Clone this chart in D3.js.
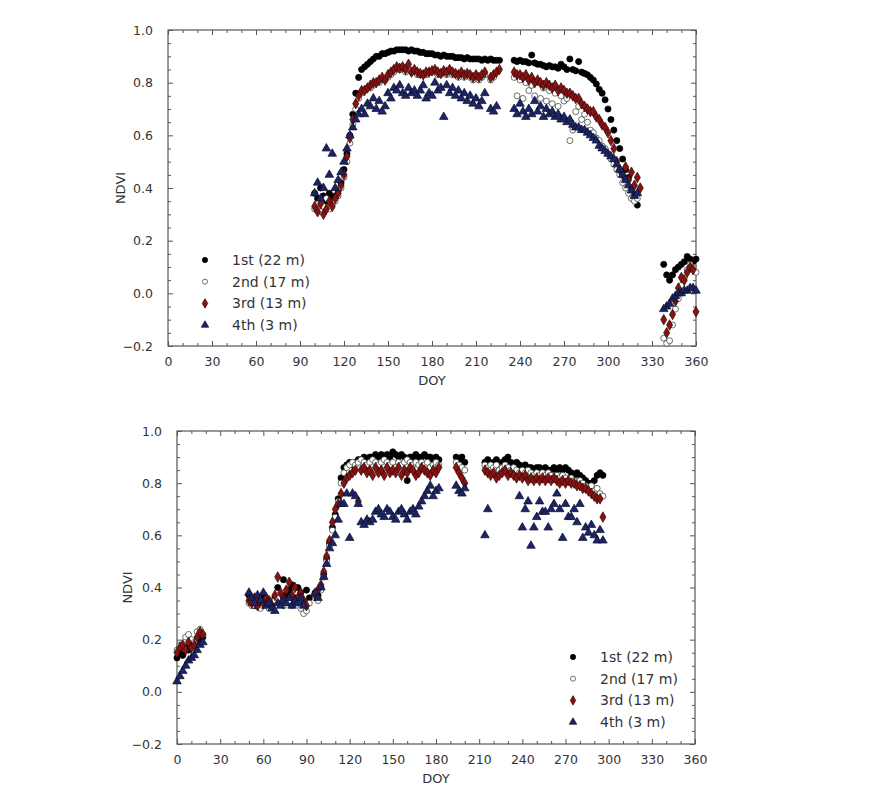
<!DOCTYPE html>
<html>
<head>
<meta charset="utf-8">
<script src="https://cdn.jsdelivr.net/npm/d3@7"></script>
<style>
  body { margin: 0; background: #fff; }
  text { font-family: "DejaVu Sans", sans-serif; fill: #333; }
</style>
</head>
<body>
<div id="chart"></div>
<script>
// ---- tick labels / categories ----
const seriesNames = ["1st (22 m)", "2nd (17 m)", "3rd (13 m)", "4th (3 m)"];
const xTicks = [0, 30, 60, 90, 120, 150, 180, 210, 240, 270, 300, 330, 360];
const yTicks = [-0.2, 0.0, 0.2, 0.4, 0.6, 0.8, 1.0];

// ---- top panel: DOY and NDVI per tower level ----
const topDoy = [
  100,102,104,106,108,110,112,114,116,118,
  120,122,124,126,128,130,132,134,136,138,
  140,142,144,146,148,150,152,154,156,158,
  160,162,164,166,168,170,172,174,176,178,
  180,182,184,186,188,190,192,194,196,198,
  200,202,204,206,208,210,212,214,216,218,
  220,222,224,226,228,
  236,238,240,242,244,246,248,250,252,254,
  256,258,260,262,264,266,268,270,272,274,
  276,278,280,282,284,286,288,290,292,294,
  296,298,300,302,304,306,308,310,312,314,
  316,318,320,322,
  338,340,342,344,346,348,350,352,354,356,358,360
];
const top1st = [
  0.38,0.36,0.40,0.37,0.35,0.38,0.36,0.37,0.39,0.42,
  0.47,0.53,0.60,0.68,0.76,0.82,0.85,0.86,0.87,0.88,
  0.89,0.90,0.90,0.91,0.91,0.915,0.92,0.92,0.925,0.925,
  0.925,0.925,0.92,0.925,0.92,0.92,0.915,0.915,0.91,0.91,
  0.91,0.905,0.905,0.90,0.905,0.90,0.90,0.90,0.895,0.895,
  0.895,0.89,0.895,0.89,0.89,0.89,0.89,0.885,0.89,0.885,
  0.89,0.885,0.885,0.885,null,
  0.885,0.88,0.885,0.88,0.88,0.875,0.905,0.875,0.87,0.87,
  0.865,0.86,0.865,0.86,0.86,0.855,0.87,0.86,0.85,0.89,
  0.85,0.845,0.88,0.84,0.835,0.83,0.82,0.81,0.795,0.775,
  0.76,0.735,0.70,0.66,0.62,0.58,0.55,0.51,0.47,0.44,
  0.40,0.37,0.335,null,
  0.11,0.07,0.05,0.07,0.09,0.10,0.11,0.12,0.14,0.13,0.12,0.13
];
const top2nd = [
  0.32,0.34,0.31,0.33,0.36,0.32,0.34,0.35,0.37,0.40,
  0.44,0.50,0.57,0.64,0.70,0.74,0.76,0.77,0.78,0.78,
  0.79,0.80,0.80,0.81,0.81,0.82,0.83,0.84,0.85,0.85,
  0.85,0.84,0.85,0.84,0.84,0.83,0.83,0.83,0.83,0.84,
  0.84,0.84,0.83,0.83,0.84,0.83,0.84,0.83,0.83,0.82,
  0.83,0.82,0.83,0.82,0.81,0.82,0.81,0.82,0.83,null,
  0.81,0.82,null,null,null,
  0.82,0.75,0.81,0.74,0.80,0.77,0.79,0.75,0.80,0.74,
  0.78,0.73,0.77,0.72,0.76,0.71,0.75,0.73,0.74,0.58,
  0.62,0.69,0.71,0.66,0.68,0.65,0.62,0.61,0.59,0.58,
  0.56,0.55,0.53,0.51,0.49,0.47,0.45,0.42,0.40,0.38,
  0.36,0.35,0.36,null,
  -0.17,-0.19,-0.18,-0.12,-0.06,-0.02,0.03,0.06,0.09,0.11,0.10,0.08
];
const top3rd = [
  0.33,0.31,0.34,0.30,0.32,0.35,0.33,0.36,0.38,0.41,
  0.45,0.52,0.59,0.66,0.72,0.75,0.77,0.77,0.78,0.79,
  0.80,0.80,0.81,0.82,0.81,0.83,0.84,0.85,0.86,0.855,
  0.86,0.85,0.87,0.84,0.85,0.84,0.835,0.83,0.84,0.84,
  0.845,0.85,0.84,0.835,0.845,0.84,0.85,0.84,0.835,0.83,
  0.84,0.83,0.835,0.83,0.82,0.83,0.82,0.83,0.84,null,
  0.82,0.83,0.84,0.85,null,
  0.84,0.83,0.83,0.82,0.83,0.81,0.82,0.80,0.81,0.80,
  0.79,0.80,0.79,0.78,0.79,0.77,0.78,0.77,0.76,0.76,
  0.75,0.74,0.74,0.72,0.71,0.70,0.69,0.69,0.67,0.66,
  0.64,0.63,0.61,0.58,0.55,0.50,0.47,0.45,0.48,0.43,
  0.46,0.41,0.44,0.40,
  -0.10,-0.15,-0.12,-0.08,-0.03,0.02,0.06,0.05,0.08,0.10,0.09,-0.07
];
const top4th = [
  0.38,0.42,0.36,0.40,0.55,0.45,0.53,0.40,0.43,0.46,
  0.50,0.55,0.60,0.63,0.66,0.68,0.70,0.68,0.72,0.71,
  0.74,0.70,0.73,0.69,0.71,0.76,0.74,0.78,0.77,0.79,
  0.76,0.75,0.78,0.76,0.77,0.75,0.77,0.79,0.74,0.76,
  0.75,0.80,0.77,0.78,0.67,0.79,0.76,0.78,0.75,0.77,
  0.74,0.76,0.73,0.75,0.72,0.74,0.71,0.73,0.76,null,
  0.70,0.69,0.71,null,null,
  0.70,0.68,0.72,0.69,0.67,0.70,0.68,0.73,0.69,0.71,
  0.67,0.70,0.68,0.69,0.67,0.68,0.66,0.67,0.65,0.66,
  0.64,0.63,0.63,0.62,0.62,0.61,0.60,0.59,0.58,0.56,
  0.55,0.54,0.53,0.52,0.51,0.49,0.47,0.45,0.43,0.41,
  0.39,0.37,0.38,null,
  -0.06,-0.05,-0.04,-0.02,-0.01,0.00,0.00,0.01,0.01,0.02,0.02,0.01
];

// ---- bottom panel ----
const botDoy = [
  0,2,4,6,8,10,12,14,16,18,
  50,52,54,56,58,60,62,64,66,68,
  70,72,74,76,78,80,82,84,86,88,
  90,92,
  96,98,100,102,104,106,108,110,112,114,
  116,118,120,122,124,126,128,130,132,134,
  136,138,140,142,144,146,148,150,152,154,
  156,158,160,162,164,166,168,170,172,174,
  176,178,180,182,
  194,196,198,200,
  214,216,218,220,222,224,226,228,230,232,
  234,236,238,240,242,244,246,248,250,252,
  254,256,258,260,262,264,266,268,270,272,
  274,276,278,280,282,284,286,288,290,292,
  294,296
];
const bot1st = [
  0.13,0.15,0.14,0.17,0.16,0.19,0.18,0.20,0.19,0.21,
  0.37,0.35,0.33,0.36,0.34,0.36,0.35,0.33,0.34,0.36,
  0.40,0.35,0.43,0.37,0.39,0.41,0.36,0.40,0.38,0.34,
  0.39,0.36,
  0.38,0.37,0.40,0.45,0.51,0.57,0.63,0.68,0.74,0.82,
  0.86,0.87,0.88,0.87,0.88,0.89,0.89,0.90,0.89,0.90,
  0.90,0.91,0.90,0.91,0.90,0.91,0.90,0.92,0.91,0.90,
  0.91,0.90,0.81,0.90,0.90,0.91,0.90,0.90,0.91,0.90,
  0.90,0.89,0.90,0.89,
  0.90,0.89,0.90,0.88,
  0.88,0.89,0.87,0.88,0.89,0.87,0.88,0.89,0.90,0.88,
  0.87,0.88,0.87,0.86,0.87,0.86,0.86,0.85,0.86,0.86,
  0.85,0.86,0.85,0.85,0.86,0.85,0.86,0.85,0.86,0.85,
  0.84,0.83,0.84,0.83,0.82,0.81,0.80,0.80,0.81,0.83,
  0.84,0.83
];
const bot2nd = [
  0.16,0.18,0.17,0.21,0.22,0.20,0.19,0.23,0.24,0.22,
  0.34,0.33,0.35,0.34,0.32,0.33,0.34,0.32,0.33,0.35,
  0.36,0.34,0.33,0.35,0.34,0.33,0.35,0.34,0.32,0.30,
  0.31,0.34,
  0.36,0.35,0.39,0.44,0.50,0.56,0.62,0.67,0.73,0.80,
  0.84,0.86,0.87,0.88,0.87,0.88,0.89,0.88,0.87,0.88,
  0.89,0.88,0.87,0.88,0.89,0.88,0.87,0.88,0.86,0.88,
  0.87,0.88,0.89,0.88,0.87,0.88,0.87,0.88,0.87,0.88,
  0.86,0.87,0.88,0.87,
  0.88,0.87,0.86,0.85,
  0.87,0.86,0.87,0.86,0.87,0.85,0.86,0.87,0.86,0.85,
  0.86,0.85,0.84,0.85,0.84,0.85,0.84,0.83,0.84,0.83,
  0.84,0.83,0.84,0.83,0.82,0.83,0.82,0.83,0.82,0.81,
  0.82,0.81,0.80,0.81,0.80,0.79,0.78,0.79,0.77,0.78,
  0.76,0.75
];
const bot3rd = [
  0.15,0.17,0.18,0.16,0.19,0.17,0.18,0.21,0.23,0.22,
  0.35,0.34,0.36,0.33,0.35,0.34,0.36,0.35,0.33,0.37,
  0.44,0.38,0.36,0.39,0.42,0.37,0.40,0.36,0.38,0.35,
  0.33,null,
  0.37,0.39,0.41,0.46,0.52,0.58,0.65,0.70,0.72,0.76,
  0.80,0.82,0.83,0.84,0.85,0.73,0.85,0.86,0.84,0.85,
  0.83,0.86,0.84,0.85,0.83,0.86,0.84,0.85,0.84,0.86,
  0.83,0.85,0.84,0.86,0.85,0.83,0.84,0.86,0.85,0.84,
  0.83,0.85,0.84,0.86,
  0.86,0.84,0.82,0.80,
  0.85,0.84,0.83,0.84,0.82,0.83,0.84,0.85,0.83,0.84,
  0.83,0.82,0.83,0.82,0.83,0.81,0.82,0.81,0.82,0.81,
  0.82,0.81,0.82,0.81,0.82,0.81,0.80,0.81,0.80,0.81,
  0.80,0.80,0.79,0.79,0.78,0.78,0.77,0.76,0.75,0.74,
  0.74,0.67
];
const bot4th = [
  0.04,0.06,0.08,0.10,0.12,0.13,0.14,0.16,0.18,0.19,
  0.38,0.36,0.34,0.37,0.35,0.38,0.33,0.34,0.32,0.31,
  0.34,0.33,0.35,0.34,0.36,0.33,0.35,0.34,0.36,0.33,
  null,null,
  0.38,0.36,0.40,0.44,0.49,0.55,0.57,0.60,0.66,0.72,
  0.72,0.76,0.59,0.76,0.75,0.72,0.65,0.64,0.66,0.65,
  0.66,0.69,0.70,0.68,0.67,0.70,0.69,0.67,0.66,0.69,
  0.70,0.68,0.66,0.69,0.70,0.68,0.71,0.73,0.75,0.77,
  0.79,0.75,0.77,0.78,
  0.79,0.77,0.76,0.78,
  0.60,0.70,null,null,null,null,null,null,null,null,
  null,null,0.75,0.63,0.70,0.73,0.56,0.63,0.67,0.73,
  0.69,0.69,0.63,0.70,0.72,0.76,0.70,0.59,0.72,0.67,
  0.67,0.70,0.65,0.72,0.59,0.63,0.61,0.64,0.60,0.58,
  0.62,0.58
];

const width = 874;
const height = 789;

const svg = d3.select("#chart")
    .append("svg")
    .attr("width", width)
    .attr("height", height);

// marker styles for the four levels
const markers = [
  { type: d3.symbolCircle,   size: 30, fill: "#000000", stroke: "#000000" },
  { type: d3.symbolCircle,   size: 28, fill: "#ffffff", stroke: "#2a3a2a" },
  { type: d3.symbolDiamond,  size: 32, fill: "#8b1010", stroke: "#2a0a0a" },
  { type: d3.symbolTriangle, size: 32, fill: "#1c2466", stroke: "#0a0f2a" }
];
const legendSizes = [22, 20, 26, 24];

function drawPanel(cfg) {
  const g = svg.append("g")
      .attr("transform", `translate(${cfg.left},${cfg.top})`);

  const xScale = d3.scaleLinear().domain([0, 360]).range([0, cfg.w]);
  const yScale = d3.scaleLinear().domain([-0.2, 1.0]).range([cfg.h, 0]);

  const xMinor = d3.range(0, 361, 10).filter(d => d % 30 !== 0);
  const yMinor = d3.range(-0.2, 1.001, 0.05).filter(d => Math.abs(Math.round(d * 5) - d * 5) > 0.01);

  function styleAxis(sel) {
    sel.select(".domain").remove();
    sel.selectAll(".tick line").attr("stroke", "#555");
    sel.selectAll(".tick text").attr("font-size", 12.5).attr("fill", "#333");
  }

  // bottom (labelled) + minor
  g.append("g").attr("transform", `translate(0,${cfg.h})`)
      .call(d3.axisBottom(xScale).tickValues(xTicks).tickSize(-5).tickPadding(11).tickFormat(d3.format("d")))
      .call(styleAxis);
  g.append("g").attr("transform", `translate(0,${cfg.h})`)
      .call(d3.axisBottom(xScale).tickValues(xMinor).tickSize(-3).tickFormat(""))
      .call(styleAxis);
  // top
  g.append("g")
      .call(d3.axisTop(xScale).tickValues(xTicks).tickSize(-5).tickFormat(""))
      .call(styleAxis);
  g.append("g")
      .call(d3.axisTop(xScale).tickValues(xMinor).tickSize(-3).tickFormat(""))
      .call(styleAxis);
  // left (labelled) + minor
  g.append("g")
      .call(d3.axisLeft(yScale).tickValues(yTicks).tickSize(-5).tickPadding(15).tickFormat(d3.format(".1f")))
      .call(styleAxis);
  g.append("g")
      .call(d3.axisLeft(yScale).tickValues(yMinor).tickSize(-3).tickFormat(""))
      .call(styleAxis);
  // right
  g.append("g").attr("transform", `translate(${cfg.w},0)`)
      .call(d3.axisRight(yScale).tickValues(yTicks).tickSize(-5).tickFormat(""))
      .call(styleAxis);
  g.append("g").attr("transform", `translate(${cfg.w},0)`)
      .call(d3.axisRight(yScale).tickValues(yMinor).tickSize(-3).tickFormat(""))
      .call(styleAxis);

  // frame
  g.append("rect")
      .attr("width", cfg.w)
      .attr("height", cfg.h)
      .attr("fill", "none")
      .attr("stroke", "#555")
      .attr("stroke-width", 1.2);

  // points, one series at a time so later levels sit on top
  cfg.series.forEach((vals, i) => {
    const pts = cfg.doy.map((d, k) => ({ doy: d, v: vals[k] })).filter(p => p.v !== null);
    const m = markers[i];
    g.selectAll(".pt" + i)
        .data(pts)
        .enter()
        .append("path")
        .attr("class", "pt" + i)
        .attr("d", d3.symbol().type(m.type).size(m.size))
        .attr("transform", p => `translate(${xScale(p.doy)},${yScale(p.v)})`)
        .attr("fill", m.fill)
        .attr("stroke", m.stroke)
        .attr("stroke-width", 0.7);
  });

  // axis titles
  g.append("text")
      .attr("transform", `translate(${cfg.ylabX},${cfg.h / 2}) rotate(-90)`)
      .attr("text-anchor", "middle")
      .attr("dy", "0.35em")
      .attr("font-size", 13)
      .text("NDVI");
  g.append("text")
      .attr("x", cfg.w / 2)
      .attr("y", cfg.h + 34)
      .attr("text-anchor", "middle")
      .attr("dy", "0.35em")
      .attr("font-size", 13)
      .text("DOY");

  // legend
  const leg = g.append("g")
      .attr("transform", `translate(${cfg.legX},${cfg.legY})`);
  seriesNames.forEach((name, i) => {
    const m = markers[i];
    leg.append("path")
        .attr("d", d3.symbol().type(m.type).size(legendSizes[i]))
        .attr("transform", `translate(0,${i * 21.7})`)
        .attr("fill", m.fill)
        .attr("stroke", m.stroke)
        .attr("stroke-width", 0.7);
    leg.append("text")
        .attr("x", 27)
        .attr("y", i * 21.7)
        .attr("dy", "0.35em")
        .attr("font-size", 14)
        .text(name);
  });
}

drawPanel({
  left: 168, top: 30, w: 528, h: 316,
  doy: topDoy, series: [top1st, top2nd, top3rd, top4th],
  ylabX: -48, legX: 37, legY: 230
});

drawPanel({
  left: 177, top: 431, w: 518, h: 313,
  doy: botDoy, series: [bot1st, bot2nd, bot3rd, bot4th],
  ylabX: -50, legX: 396, legY: 226
});
</script>
</body>
</html>
